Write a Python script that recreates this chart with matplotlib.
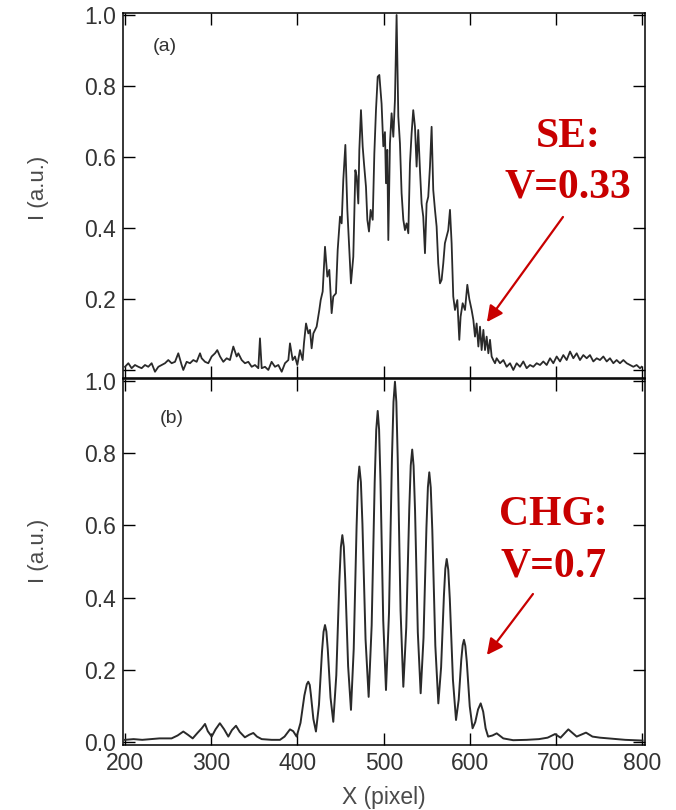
import matplotlib
matplotlib.use("Agg")
import matplotlib.pyplot as plt

# ---------------- data ----------------
top_x = [200, 203.9, 207.7, 211.6, 215.5, 219.3, 223.2, 227, 230.9, 234.8,
         238.7, 242.5, 246.4, 250.2, 254.1, 258, 261.8, 265.7, 267.6, 271.5,
         275.4, 279.2, 283.1, 287, 288.9, 292.8, 296.6, 300.5, 304.4, 307,
         310.2, 314, 317.9, 321.7, 325.6, 329.5, 331.4, 335.3, 339.1, 343,
         346.9, 350.7, 354.6, 356.5, 358.5, 362.3, 366.2, 370, 373.9, 377.8,
         381.7, 385.5, 389.4, 391.3, 394.4, 397.1, 399.8, 402.9, 406, 407.5,
         409.9, 412.6, 414.5, 416.4, 418.4, 422.2, 425.3, 426.9, 429.2, 431.9,
         434.6, 436.9, 439.6, 441.5, 444.6, 446.6, 449.3, 451.2, 453.1, 455.5,
         457.8, 460.1, 462, 464.7, 467.1, 468.6, 470.5, 471.7, 473.6, 475.6,
         477.1, 479.4, 481, 482.9, 484.8, 487.2, 489.1, 491, 493, 494.9,
         497.5, 499.5, 501.4, 502.6, 504.1, 505.3, 507.2, 509.1, 511.1, 513,
         514.9, 516.9, 518.8, 520.7, 522.7, 524.6, 526.5, 528.5, 530.4, 532.3,
         534.2, 536.2, 538.1, 540, 542, 543.9, 545.8, 547.8, 549.7, 551.6,
         553.6, 555.5, 557.4, 559.4, 561.3, 563.2, 565.2, 567.1, 569, 570.9,
         572.9, 574.8, 576.8, 578.7, 580.6, 582.6, 585.3, 587.6, 589.1, 591.5,
         594.2, 596.9, 599.2, 601.9, 603.9, 605.8, 607.7, 609.7, 611.6, 613.5,
         615.5, 617.4, 619.3, 621.3, 623.2, 625.1, 627, 629, 630.9, 634.8,
         638.7, 642.5, 646.4, 650.2, 654.1, 658, 661.8, 665.7, 669.6, 673.4,
         677.3, 681.2, 685, 688.9, 692.8, 696.6, 700.5, 704.4, 708.2, 712.1,
         716, 719.8, 723.7, 727.5, 731.4, 735.3, 739.1, 743, 746.9, 750.7,
         754.6, 758.5, 762.3, 766.2, 770, 773.9, 777.8, 781.7, 785.5, 789.4,
         793.2, 797.1, 799]
top_y = [0.009, 0.019, 0.005, 0.014, 0.009, 0.005, 0.014, 0.009, 0.019, -0.005,
         0.009, 0.014, 0.019, 0.028, 0.019, 0.023, 0.047, 0.014, 0.0, 0.023,
         0.019, 0.028, 0.023, 0.047, 0.033, 0.023, 0.019, 0.038, 0.047, 0.056,
         0.038, 0.023, 0.033, 0.028, 0.066, 0.038, 0.047, 0.028, 0.019, 0.023,
         0.009, 0.014, 0.005, 0.089, 0.005, 0.009, 0.0, 0.023, 0.009, 0.014,
         -0.005, 0.019, 0.028, 0.075, 0.028, 0.038, 0.014, 0.056, 0.028, 0.075,
         0.131, 0.103, 0.113, 0.061, 0.103, 0.122, 0.169, 0.197, 0.221, 0.347,
         0.263, 0.282, 0.160, 0.207, 0.216, 0.338, 0.432, 0.413, 0.535, 0.634,
         0.451, 0.338, 0.244, 0.319, 0.563, 0.545, 0.469, 0.620, 0.732, 0.629,
         0.582, 0.516, 0.423, 0.390, 0.451, 0.423, 0.610, 0.732, 0.826, 0.831,
         0.750, 0.630, 0.670, 0.526, 0.620, 0.366, 0.638, 0.723, 0.657, 0.761,
         1.000, 0.714, 0.638, 0.498, 0.423, 0.394, 0.413, 0.385, 0.582, 0.666,
         0.732, 0.685, 0.573, 0.676, 0.563, 0.469, 0.432, 0.329, 0.469, 0.488,
         0.573, 0.685, 0.507, 0.451, 0.404, 0.300, 0.244, 0.254, 0.300, 0.357,
         0.376, 0.394, 0.451, 0.357, 0.207, 0.169, 0.197, 0.085, 0.150, 0.188,
         0.169, 0.240, 0.200, 0.169, 0.141, 0.094, 0.131, 0.066, 0.122, 0.056,
         0.113, 0.056, 0.094, 0.047, 0.085, 0.038, 0.028, 0.019, 0.033, 0.019,
         0.028, 0.009, 0.019, 0.000, 0.019, 0.009, 0.024, 0.005, 0.014, 0.009,
         0.019, 0.014, 0.024, 0.014, 0.033, 0.019, 0.038, 0.024, 0.042, 0.028,
         0.052, 0.033, 0.047, 0.028, 0.042, 0.033, 0.042, 0.024, 0.033, 0.028,
         0.038, 0.024, 0.033, 0.019, 0.028, 0.019, 0.028, 0.019, 0.014, 0.009,
         0.014, 0.005, 0.009]

bot_x = [200, 210, 220, 230, 240, 254, 261, 267.6, 273, 278.5,
         284, 289, 292.8, 296, 300.5, 305, 310, 315, 319.8, 324,
         328.7, 333, 339, 344, 348.8, 353, 358.5, 370, 379.7, 385,
         391.3, 395, 399, 403.5, 408, 410.8, 412.5, 414.2, 415.5, 418.4,
         421.4, 424.9, 428.4, 430.2, 431.9, 433.5, 435.1, 438.3, 441.5, 445,
         448.5, 450.3, 452, 453.7, 455.3, 458.7, 462, 465.2, 468.5, 470.1,
         471.7, 473.5, 475.3, 478.9, 482.5, 486, 489.5, 491.3, 493, 494.6,
         496.2, 499.4, 502.6, 506.1, 509.5, 511.3, 513, 514.6, 516.2, 519.5,
         522.7, 526.1, 529.6, 531.3, 533, 534.6, 536.3, 539.5, 542.8, 546.1,
         549.5, 551.2, 552.8, 554.5, 556.3, 559.8, 563.3, 566.5, 569.8, 571.4,
         573, 574.8, 576.6, 580.2, 583.8, 586.9, 589.9, 591.5, 593, 594.6,
         596.3, 599.7, 603, 606.1, 609.3, 612.4, 615.3, 618.1, 621, 626,
         631, 638.6, 650, 665.7, 680, 690, 698.6, 705, 714, 723.7,
         734.5, 742, 750.7, 760, 770, 780, 789, 800]
bot_y = [0.006, 0.008, 0.006, 0.008, 0.010, 0.010, 0.018, 0.029, 0.020, 0.010,
         0.025, 0.038, 0.050, 0.030, 0.015, 0.035, 0.052, 0.035, 0.015, 0.033,
         0.045, 0.028, 0.013, 0.020, 0.025, 0.015, 0.008, 0.006, 0.006, 0.015,
         0.035, 0.030, 0.015, 0.053, 0.129, 0.160, 0.167, 0.158, 0.132, 0.064,
         0.029, 0.103, 0.250, 0.305, 0.324, 0.306, 0.257, 0.123, 0.056, 0.185,
         0.444, 0.540, 0.573, 0.541, 0.452, 0.210, 0.089, 0.258, 0.595, 0.720,
         0.763, 0.720, 0.604, 0.285, 0.125, 0.323, 0.719, 0.865, 0.917, 0.866,
         0.724, 0.337, 0.144, 0.358, 0.785, 0.942, 0.998, 0.942, 0.787, 0.364,
         0.153, 0.317, 0.646, 0.766, 0.810, 0.765, 0.641, 0.304, 0.135, 0.288,
         0.594, 0.706, 0.747, 0.705, 0.587, 0.267, 0.107, 0.207, 0.407, 0.480,
         0.507, 0.477, 0.396, 0.173, 0.061, 0.117, 0.228, 0.268, 0.283, 0.266,
         0.222, 0.099, 0.038, 0.055, 0.090, 0.107, 0.084, 0.038, 0.015, 0.018,
         0.024, 0.010, 0.005, 0.006, 0.008, 0.012, 0.022, 0.012, 0.035, 0.015,
         0.026, 0.015, 0.012, 0.010, 0.008, 0.006, 0.005, 0.004]

top_yticks = [0.0, 0.2, 0.4, 0.6, 0.8, 1.0]
top_ylabels = ["", "0.2", "0.4", "0.6", "0.8", "1.0"]
bot_yticks = [0.0, 0.2, 0.4, 0.6, 0.8, 1.0]
bot_ylabels = ["0.0", "0.2", "0.4", "0.6", "0.8", "1.0"]
xticks = [200, 300, 400, 500, 600, 700, 800]
xlabels = ["200", "300", "400", "500", "600", "700", "800"]

# ---------------- figure ----------------
W, H = 676, 810
fig = plt.figure(figsize=(W / 100, H / 100), dpi=100)
plt.rcParams['font.family'] = ['Liberation Sans', 'DejaVu Sans']

L, R = 123, 645
ax1 = fig.add_axes([L / W, 1 - 378 / H, (R - L) / W, (378 - 13) / H])
ax2 = fig.add_axes([L / W, 1 - 745 / H, (R - L) / W, (745 - 379) / H])

line_col = '#2a2a2a'
txt_col = '#333333'
lab_col = '#4a4a4a'
red = '#C80000'

ax1.plot(top_x, top_y, color=line_col, lw=1.3, solid_joinstyle='round')
ax2.plot(bot_x, bot_y, color=line_col, lw=1.4, solid_joinstyle='round')

for ax in (ax1, ax2):
    ax.set_xlim(197.7, 802.9)
    ax.set_xticks(xticks)
    ax.tick_params(direction='in', top=True, right=True, length=8.5, width=1.0,
                   labelsize=16.5, labelcolor=txt_col, pad=5)
    for s in ax.spines.values():
        s.set_linewidth(1.1)
    ax.set_ylabel("I (a.u.)", fontsize=16, color=lab_col)

ax1.set_ylim(-0.0226, 1.0056)
ax1.set_yticks(top_yticks)
ax1.set_yticklabels(top_ylabels)
ax1.tick_params(labelbottom=False)
ax1.yaxis.set_label_coords(-0.142, 0.52)

ax2.set_ylim(-0.0083, 1.0055)
ax2.set_yticks(bot_yticks)
ax2.set_yticklabels(bot_ylabels)
ax2.set_xticklabels(xlabels)
ax2.set_xlabel("X (pixel)", fontsize=16.5, color=lab_col, labelpad=8)
ax2.yaxis.set_label_coords(-0.142, 0.53)

ax1.text(246, 0.91, "(a)", fontsize=14, color=txt_col, ha='center', va='center')
ax2.text(254, 0.897, "(b)", fontsize=14, color=txt_col, ha='center', va='center')

serif = ['Liberation Serif', 'DejaVu Serif']
big = dict(fontsize=30, fontweight='bold', color=red, family=serif,
           ha='center', va='baseline')
ax1.text(714, 0.628, "SE:", **big)
ax1.text(714, 0.4845, "V=0.33", **big)
ax1.annotate("", xy=(619.6, 0.135), xytext=(707.8, 0.431),
             arrowprops=dict(arrowstyle='-|>', color=red, lw=1.6,
                             mutation_scale=24, shrinkA=0, shrinkB=0))

ax2.text(697, 0.601, "CHG:", **big)
ax2.text(697, 0.458, "V=0.7", **big)
ax2.annotate("", xy=(619.6, 0.241), xytext=(673, 0.41),
             arrowprops=dict(arrowstyle='-|>', color=red, lw=1.6,
                             mutation_scale=24, shrinkA=0, shrinkB=0))

fig.savefig("out.png", dpi=100)
